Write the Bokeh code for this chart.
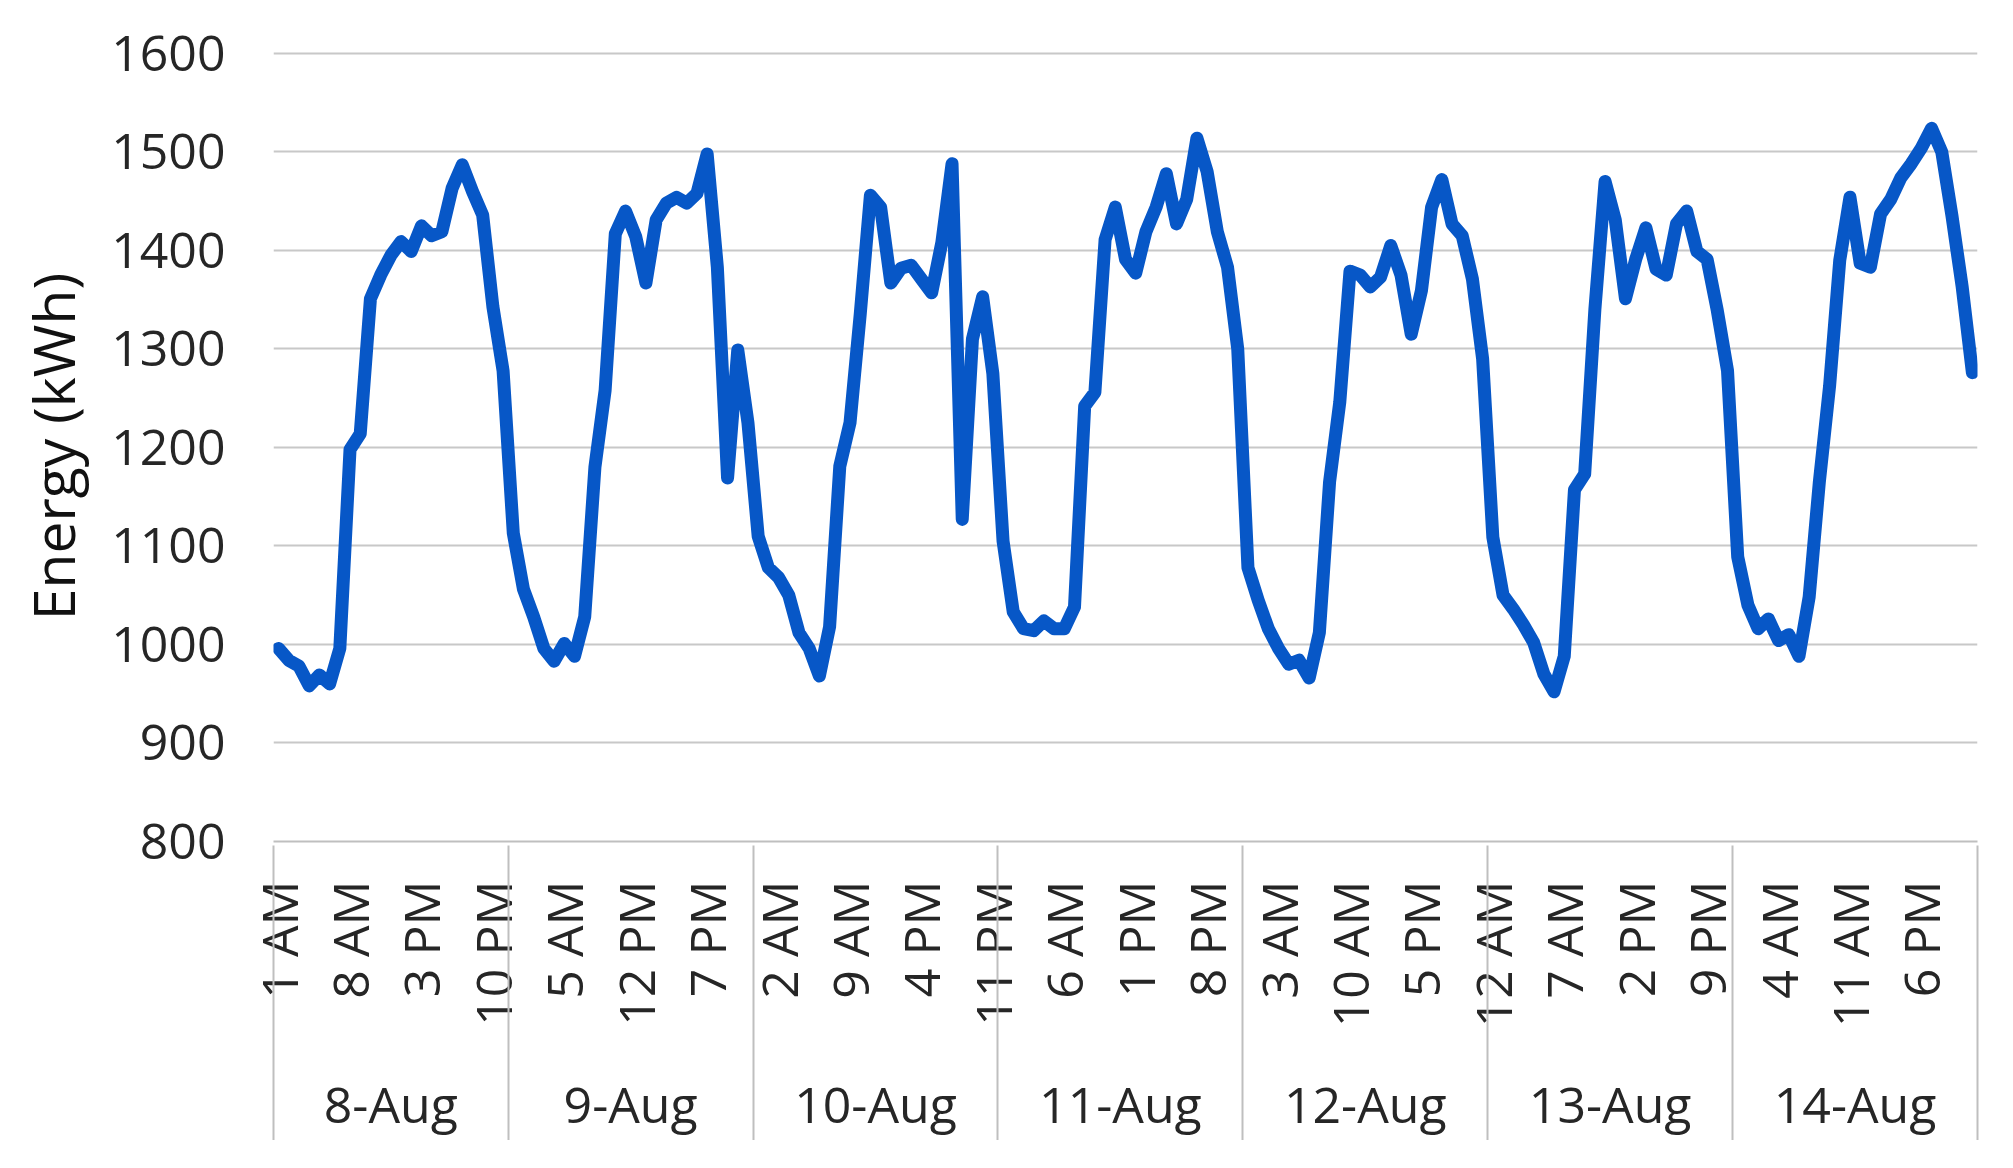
import math
from bokeh.plotting import figure
from bokeh.models import Range1d, FixedTicker, LinearAxis
from bokeh.embed import file_html
from bokeh.resources import INLINE

# ---- data ----
days = ["8-Aug", "9-Aug", "10-Aug", "11-Aug", "12-Aug", "13-Aug", "14-Aug"]
first_hour = 1          # series starts at 1 AM on 8-Aug, hourly
label_step = 7          # every 7th hour is labelled
y_ticks = [800, 900, 1000, 1100, 1200, 1300, 1400, 1500, 1600]

energy_8aug = [996, 984, 978, 958, 969, 960, 996, 1198, 1214, 1351, 1375, 1395,
               1409, 1399, 1425, 1415, 1419, 1463, 1487, 1460, 1436, 1343, 1278]
energy_9aug = [1113, 1056, 1028, 996, 983, 1001, 988, 1028, 1180, 1258, 1417, 1440,
               1414, 1367, 1431, 1448, 1454, 1448, 1458, 1498, 1383, 1169, 1299, 1225]
energy_10aug = [1110, 1078, 1068, 1050, 1012, 996, 968, 1018, 1181, 1225, 1335, 1456,
                1444, 1367, 1382, 1385, 1371, 1357, 1408, 1488, 1127, 1310, 1353, 1275]
energy_11aug = [1105, 1033, 1016, 1014, 1024, 1016, 1016, 1038, 1242, 1256, 1411, 1444,
                1391, 1377, 1419, 1444, 1478, 1427, 1452, 1514, 1480, 1419, 1383, 1300]
energy_12aug = [1078, 1045, 1016, 996, 980, 984, 966, 1012, 1165, 1246, 1379, 1375,
                1363, 1373, 1405, 1375, 1315, 1359, 1444, 1472, 1427, 1415, 1371, 1290]
energy_13aug = [1109, 1050, 1036, 1020, 1002, 970, 952, 988, 1157, 1173, 1340, 1470,
                1431, 1351, 1391, 1423, 1381, 1375, 1427, 1440, 1399, 1391, 1339, 1278]
energy_14aug = [1089, 1040, 1016, 1026, 1004, 1010, 988, 1048, 1165, 1262, 1390, 1454,
                1387, 1383, 1437, 1452, 1474, 1488, 1504, 1524, 1500, 1435, 1363, 1276]

energy = (energy_8aug + energy_9aug + energy_10aug + energy_11aug +
          energy_12aug + energy_13aug + energy_14aug)

# ---- derived categories ----
n = len(energy)
x = list(range(n))
hours = [(first_hour + i) % 24 for i in x]


def hour_label(h):
    h12 = h % 12 or 12
    return f"{h12} {'AM' if h < 12 else 'PM'}"


hour_labels = [hour_label(h) for h in hours]
label_ticks = list(range(0, n, label_step))
starts = [0] + [i for i in x if hours[i] == 0 and i > 0]
ends = starts[1:] + [n]
bounds = [s - 0.5 for s in starts] + [n - 0.5]
centers = [(s + e - 1) / 2 for s, e in zip(starts, ends)]

FONT = "Open Sans"
TXT = "#262626"
GRID = "#c8c8c8"
SEP = "#bfbfbf"

p = figure(frame_width=1704, frame_height=790,
           x_range=Range1d(-0.5, n - 0.5), y_range=Range1d(800, 1602),
           x_axis_location=None,
           output_backend="svg", toolbar_location=None,
           min_border_left=273, min_border_top=51, min_border_right=25,
           min_border_bottom=0)
p.outline_line_color = None
p.background_fill_color = "white"
p.border_fill_color = "white"

# y axis
yt = FixedTicker(ticks=y_ticks)
p.yaxis.ticker = yt
p.yaxis.axis_line_color = None
p.yaxis.major_tick_line_color = None
p.yaxis.minor_tick_line_color = None
p.yaxis.major_tick_out = 0
p.yaxis.major_tick_in = 0
p.yaxis.major_label_standoff = 48
p.yaxis.major_label_text_font = FONT
p.yaxis.major_label_text_font_size = "50px"
p.yaxis.major_label_text_color = TXT
p.yaxis.axis_label = "Energy (kWh)"
p.yaxis.axis_label_text_font = FONT
p.yaxis.axis_label_text_font_size = "57px"
p.yaxis.axis_label_text_font_style = "normal"
p.yaxis.axis_label_text_color = "#111111"
p.yaxis.axis_label_standoff = 16

p.ygrid.ticker = yt
p.ygrid.grid_line_color = GRID
p.ygrid.grid_line_width = 2
p.xgrid.visible = False

# hour-level category axis
hour_axis = LinearAxis(
    ticker=FixedTicker(ticks=label_ticks),
    major_label_overrides={t: hour_labels[t] for t in label_ticks},
    major_label_orientation=math.pi / 2,
    major_tick_out=0, major_tick_in=0,
    major_tick_line_color=None, minor_tick_line_color=None,
    axis_line_color=SEP, axis_line_width=2,
    major_label_standoff=39,
    major_label_text_font=FONT, major_label_text_font_size="50px",
    major_label_text_color=TXT,
)
p.add_layout(hour_axis, "below")

# day-level category axis
day_axis = LinearAxis(
    ticker=FixedTicker(ticks=centers),
    major_label_overrides={c: d for c, d in zip(centers, days)},
    major_tick_out=0, major_tick_in=0,
    major_tick_line_color=None, minor_tick_line_color=None,
    axis_line_color=None,
    major_label_standoff=39,
    major_label_text_font=FONT, major_label_text_font_size="50px",
    major_label_text_color=TXT,
)
p.add_layout(day_axis, "below")

# day separators: ticks of an outer axis that reach up to the plot area
sep_axis = LinearAxis(
    ticker=FixedTicker(ticks=bounds),
    major_label_overrides={b: "" for b in bounds},
    major_tick_out=0, major_tick_in=295,
    major_tick_line_color=SEP, major_tick_line_width=2,
    minor_tick_line_color=None,
    axis_line_color=None,
    major_label_standoff=0,
    major_label_text_font_size="1px",
)
p.add_layout(sep_axis, "below")

p.line(x, energy, line_color="#0757c7", line_width=13,
       line_join="round", line_cap="round")

open("out.html", "w").write(file_html(p, INLINE))
